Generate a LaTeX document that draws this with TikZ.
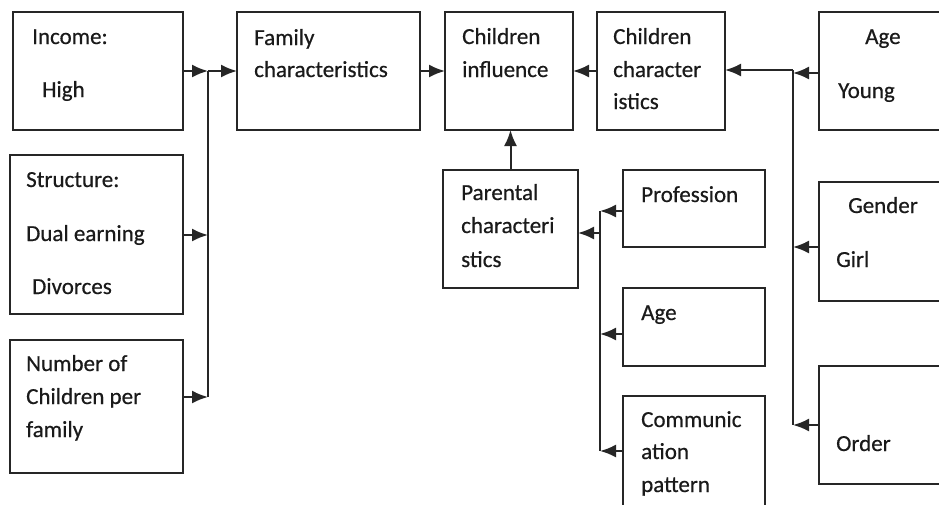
\documentclass[tikz,border=0pt]{standalone}
\usepackage{fontspec}
\setmainfont[FakeBold=0.5]{Carlito}
\usetikzlibrary{arrows.meta}
\definecolor{lineclr}{HTML}{262626}
\definecolor{txtclr}{HTML}{1A1A1A}
\tikzset{
  box/.style={draw=lineclr, line width=2.1pt, fill=white, inner sep=0pt, outer sep=0pt},
  lbl/.style={anchor=base west, inner sep=0pt, text=txtclr, font=\fontsize{23}{28}\selectfont},
  wire/.style={draw=lineclr, line width=2pt},
  arr/.style={wire, -{Latex[length=16pt,width=13pt]}}
}
\begin{document}
\begin{tikzpicture}[x=1pt, y=-1pt]
\useasboundingbox (0,0) rectangle (939,504);
\clip (0,0) rectangle (939,504);
\fill[white] (0,0) rectangle (939,504);

% family side
\node[box, minimum width=170pt, minimum height=118pt] (inc) at (98,71) {};
\node[box, minimum width=173pt, minimum height=159pt] (str) at (96.5,234.5) {};
\node[box, minimum width=173pt, minimum height=133pt] (num) at (96.5,406.5) {};
\node[box, minimum width=183pt, minimum height=118pt] (fam) at (328.5,71) {};
% centre
\node[box, minimum width=128pt, minimum height=118pt] (inf) at (509,71) {};
\node[box, minimum width=128pt, minimum height=118pt] (chr) at (661,71) {};
\node[box, minimum width=135pt, minimum height=118pt] (par) at (510.5,229) {};
% parental attributes
\node[box, minimum width=142pt, minimum height=77pt] (pro) at (694,208.5) {};
\node[box, minimum width=142pt, minimum height=78pt] (page) at (694,327) {};
\node[box, minimum width=142pt, minimum height=124pt] (com) at (694,458) {};
% child attributes
\node[box, minimum width=141pt, minimum height=118pt] (agey) at (889.5,71) {};
\node[box, minimum width=141pt, minimum height=119pt] (gen) at (889.5,241.5) {};
\node[box, minimum width=141pt, minimum height=118pt] (ord) at (889.5,425) {};

% labels
\node[lbl] (t1) at (32,44) {Income:};
\node[lbl] (t2) at (42,97) {High};
\node[lbl] (t3) at (26,187) {Structure:};
\node[lbl] (t4) at (26,241) {Dual earning};
\node[lbl] (t5) at (32,294) {Divorces};
\node[lbl] (t6) at (26,371) {Number of};
\node[lbl] (t7) at (26,404) {Children per};
\node[lbl] (t8) at (26,437) {family};
\node[lbl] (t9) at (254,45) {Family};
\node[lbl] (t10) at (254,77) {characteristics};
\node[lbl] (t11) at (462,44) {Children};
\node[lbl] (t12) at (462,77) {influence};
\node[lbl] (t13) at (613,44) {Children};
\node[lbl] (t14) at (613,77) {character};
\node[lbl] (t15) at (613,109) {istics};
\node[lbl] (t16) at (865,44) {Age};
\node[lbl] (t17) at (838,98) {Young};
\node[lbl] (t18) at (461,200) {Parental};
\node[lbl] (t19) at (461,233) {characteri};
\node[lbl] (t20) at (461,267) {stics};
\node[lbl] (t21) at (641,202) {Profession};
\node[lbl] (t22) at (641,320) {Age};
\node[lbl] (t23) at (641,427) {Communic};
\node[lbl] (t24) at (641,459) {ation};
\node[lbl] (t25) at (641,492) {pattern};
\node[lbl] (t26) at (848,213) {Gender};
\node[lbl] (t27) at (836,267) {Girl};
\node[lbl] (t28) at (836,451) {Order};

% junction points of the collecting lines
\coordinate (jL) at (208,71);
\coordinate (jLs) at (208,235);
\coordinate (jLb) at (208,397);
\coordinate (jR) at (793,70);
\coordinate (jRa) at (793,73);
\coordinate (jRg) at (793,247);
\coordinate (jRb) at (793,425);
\coordinate (jP) at (600,211);
\coordinate (jPm) at (600,233);
\coordinate (jPa) at (600,334);
\coordinate (jPb) at (600,451);

% family characteristics
\draw[wire] (jL) -- (jLb);
\draw[arr] (inc.east) -- (jL);
\draw[arr] (jL) -- (fam.west);
\draw[arr] (str.east |- jLs) -- (jLs);
\draw[arr] (num.east |- jLb) -- (jLb);
\draw[arr] (fam.east) -- (inf.west);

% children characteristics
\draw[arr] (chr.west) -- (inf.east);
\draw[wire] (jR) -- (jRb);
\draw[arr] (agey.west |- jRa) -- (jRa);
\draw[arr] (jR) -- (jR -| chr.east);
\draw[arr] (gen.west |- jRg) -- (jRg);
\draw[arr] (ord.west |- jRb) -- (jRb);

% parental characteristics
\draw[arr] (par.north) -- (par.north |- inf.south);
\draw[wire] (jP) -- (jPb);
\draw[arr] (pro.west |- jP) -- (jP);
\draw[arr] (page.west |- jPa) -- (jPa);
\draw[arr] (com.west |- jPb) -- (jPb);
\draw[arr] (jPm) -- (jPm -| par.east);
\end{tikzpicture}
\end{document}
